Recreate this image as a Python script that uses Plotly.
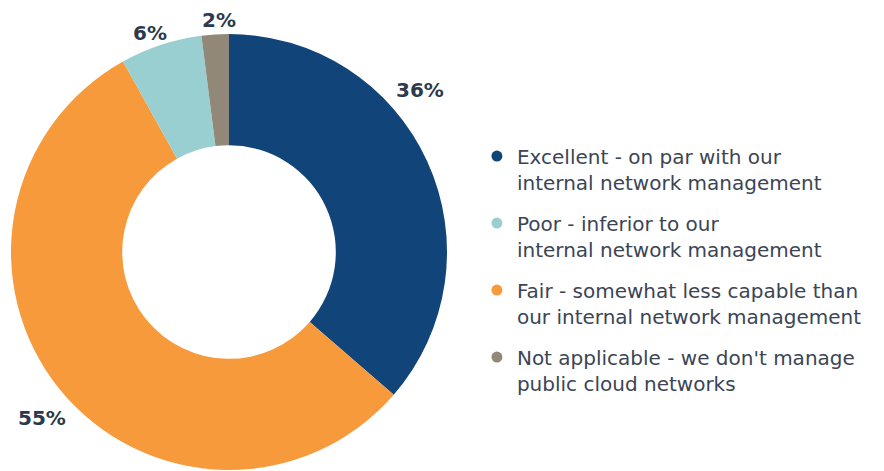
import plotly.graph_objects as go

categories = [
    "Excellent - on par with our<br>internal network management",
    "Fair - somewhat less capable than<br>our internal network management",
    "Poor - inferior to our<br>internal network management",
    "Not applicable - we don't manage<br>public cloud networks",
]
values = [36, 55, 6, 2]
pct_labels = ["36%", "55%", "6%", "2%"]
colors = ["#11457a", "#f79a3b", "#99cfd0", "#928878"]
legend_order = [0, 2, 1, 3]
# label anchor points (pixels from top-left) for the percentage labels
label_px = [(420, 90), (42, 418), (150, 33), (219, 20)]

W, H = 884, 471
cx, cy, r = 229, 252, 218
FONT = "DejaVu Sans"

fig = go.Figure()
fig.add_trace(go.Pie(
    labels=categories, values=values,
    textinfo="none",
    marker=dict(colors=colors, line=dict(width=0)),
    hole=0.49, sort=False, direction="clockwise", rotation=0,
    showlegend=False, hoverinfo="label+percent",
    domain=dict(x=[(cx - r) / W, (cx + r) / W], y=[(H - cy - r) / H, (H - cy + r) / H]),
))
for i in legend_order:
    fig.add_trace(go.Scatter(
        x=[None], y=[None], mode="markers", name=categories[i],
        marker=dict(color=colors[i], size=11, symbol="circle"),
        legendgroup=str(i), showlegend=True,
    ))

for txt, (px, py) in zip(pct_labels, label_px):
    fig.add_annotation(
        x=px / W, y=1 - py / H, xref="paper", yref="paper",
        text=txt, showarrow=False, xanchor="center", yanchor="middle",
        font=dict(family=FONT, size=20, color="#2b3a4e", weight="bold"),
    )

fig.update_layout(
    width=W, height=H,
    margin=dict(l=0, r=0, t=0, b=0),
    paper_bgcolor="white", plot_bgcolor="white",
    xaxis=dict(visible=False), yaxis=dict(visible=False),
    legend=dict(
        x=0.5395, y=0.71, xanchor="left", yanchor="top",
        font=dict(family=FONT, size=20, color="#3b4556"),
        valign="top", tracegroupgap=12, itemclick=False,
    ),
)
fig.write_html("out.html", config={"displayModeBar": False},
               post_script="document.body.style.margin='0';")
